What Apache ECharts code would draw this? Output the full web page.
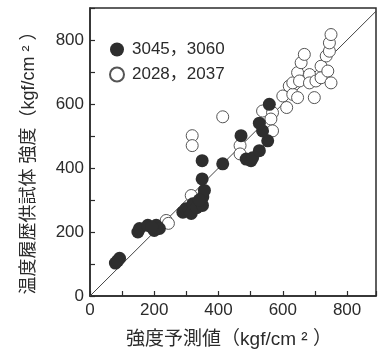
<!DOCTYPE html>
<html>
<head>
<meta charset="utf-8">
<script src="https://cdn.jsdelivr.net/npm/echarts@6/dist/echarts.min.js"></script>
<style>
  html, body { margin: 0; padding: 0; background: #fff; }
  #chart { width: 379px; height: 354px; }
</style>
</head>
<body>
<div id="chart"></div>
<script>
// 3045, 3060 (filled): [predicted, measured] in kgf/cm2
const filledPoints = [
  [79, 103], [92, 118], [86, 110],
  [149, 200], [154, 211], [180, 221], [200, 205], [206, 221], [216, 211], [192, 215],
  [289, 262], [299, 273], [309, 267], [315, 258], [320, 288], [332, 276], [350, 283],
  [351, 309], [356, 330], [340, 300],
  [349, 366], [349, 423], [413, 413],
  [470, 501], [486, 428], [501, 423], [506, 432], [527, 454], [553, 485], [537, 516],
  [527, 540], [558, 599]
]
// 2028, 2037 (open)
const openPoints = [
  [237, 236], [244, 227], [315, 314], [318, 501], [318, 470], [413, 560],
  [467, 470], [467, 444], [537, 578], [568, 573], [563, 553], [568, 516],
  [600, 625], [612, 589], [620, 656], [631, 630], [631, 666], [646, 698], [646, 620],
  [652, 672], [657, 729], [667, 755], [683, 692], [683, 666], [698, 620], [703, 672],
  [719, 718], [719, 682], [735, 750], [740, 703], [745, 765], [745, 791], [750, 817],
  [750, 666]
]
const seriesNames = ['3045，3060', '2028，2037']
const refLine = [[0, 0], [890, 890]]
const xMax = 890
const yMax = 900
const tickStep = 100
const labelStep = 200

const FONT = '"Liberation Sans", "Noto Sans CJK JP", sans-serif'
const INK = '#2b2b2b'

function tickLabel(value) {
  return value % labelStep === 0 && value <= 800 ? String(value) : ''
}

const axisCommon = {
  min: 0,
  interval: tickStep,
  axisLine: { lineStyle: { color: INK, width: 1.5 } },
  axisTick: { inside: true, length: 5, lineStyle: { color: INK, width: 1.2 } },
  splitLine: { show: false },
  axisLabel: { color: INK, fontSize: 17, fontFamily: FONT, formatter: tickLabel, margin: 6 },
  nameLocation: 'middle',
}

const chart = echarts.init(document.getElementById('chart'))
chart.setOption({
  animation: false,
  backgroundColor: '#fff',
  grid: { left: 90, right: 1, top: 8, bottom: 58, show: true, borderColor: INK, borderWidth: 1.5 },
  legend: {
    orient: 'vertical',
    left: 109,
    top: 41,
    padding: 0,
    itemGap: 8,
    itemWidth: 14,
    itemHeight: 14,
    textStyle: { color: INK, fontSize: 17, fontFamily: FONT, padding: [0, 0, 0, 3] },
    data: seriesNames,
  },
  xAxis: {
    ...axisCommon,
    type: 'value',
    max: xMax,
    name: '強度予測値（kgf/cm ² ）',
    nameGap: 34,
    nameTextStyle: { color: INK, fontSize: 19, fontFamily: FONT, padding: [0, 8, 0, 0] },
  },
  yAxis: {
    ...axisCommon,
    type: 'value',
    max: yMax,
    name: '温度履歴供試体 強度（kgf/cm ² ）',
    nameGap: 52,
    nameTextStyle: { color: INK, fontSize: 18, fontFamily: FONT, padding: [0, 13, 0, 0] },
  },
  series: [
    {
      type: 'line',
      data: refLine,
      symbol: 'none',
      silent: true,
      lineStyle: { color: '#444', width: 1 },
      z: 1,
    },
    {
      name: seriesNames[0],
      type: 'scatter',
      data: filledPoints,
      symbolSize: 13,
      itemStyle: { color: '#2e2e2e', opacity: 1 },
      z: 3,
    },
    {
      name: seriesNames[1],
      type: 'scatter',
      data: openPoints,
      symbolSize: 12,
      itemStyle: { color: '#fff', borderColor: '#555', borderWidth: 1, opacity: 1 },
      z: 2,
    },
  ],
})
</script>
</body>
</html>
